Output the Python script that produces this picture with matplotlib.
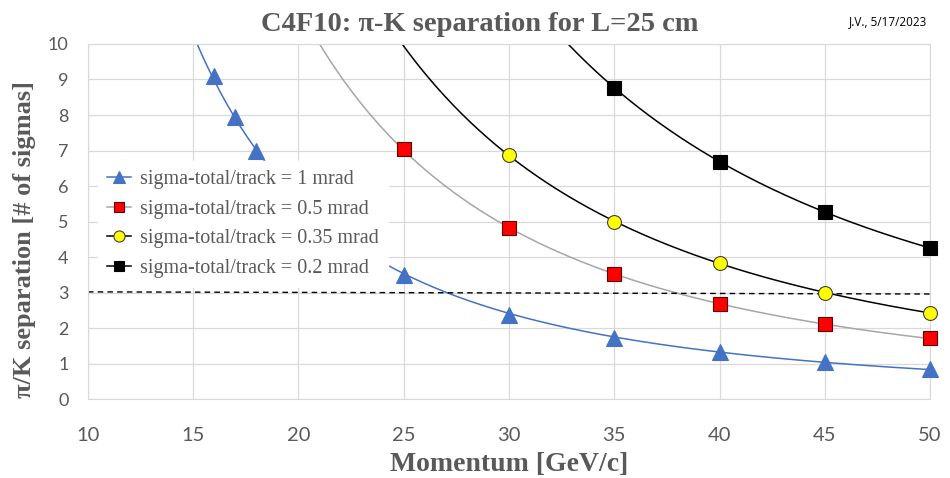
"""C4F10 pi-K separation vs momentum for L=25 cm."""
import matplotlib
matplotlib.use("Agg")
import matplotlib.pyplot as plt
import numpy as np

GRIS = "#595959"
REJILLA = "#D9D9D9"

# datos
p_1mrad = [16, 17, 18, 25, 30, 35, 40, 45, 50]
sep_1mrad = [9.1, 7.95, 7.0, 3.5, 2.37, 1.73, 1.32, 1.04, 0.85]

p_05mrad = [25, 30, 35, 40, 45, 50]
sep_05mrad = [7.03, 4.82, 3.52, 2.68, 2.11, 1.71]

p_035mrad = [30, 35, 40, 45, 50]
sep_035mrad = [6.87, 5.0, 3.82, 3.0, 2.43]

p_02mrad = [35, 40, 45, 50]
sep_02mrad = [8.77, 6.68, 5.28, 4.25]

umbral_x = [10, 50]
umbral_y = [3.02, 2.96]

etiquetas = ["sigma-total/track = 1 mrad",
             "sigma-total/track = 0.5 mrad",
             "sigma-total/track = 0.35 mrad",
             "sigma-total/track = 0.2 mrad"]


def _tendencia(ax, x, y, color):
    # ajuste potencial (como la linea de tendencia de Excel)
    b, a = np.polyfit(np.log(x), np.log(y), 1)
    xx = np.linspace(10, 50, 400)
    ax.plot(xx, np.exp(a) * xx ** b, color=color, linewidth=1.1, zorder=2)


def main():
    fig = plt.figure(figsize=(9.5, 4.78), dpi=100)
    ax = fig.add_axes([0.0926, 0.165, 0.8864, 0.743])

    series = [
        (p_1mrad, sep_1mrad, "#4472C4", dict(marker="^", ms=11, mfc="#4472C4", mec="#4472C4")),
        (p_05mrad, sep_05mrad, "#A6A6A6", dict(marker="s", ms=9.5, mfc="#FF0000", mec="#600000")),
        (p_035mrad, sep_035mrad, "black", dict(marker="o", ms=10, mfc="#FFFF00", mec="#404040")),
        (p_02mrad, sep_02mrad, "black", dict(marker="s", ms=9.5, mfc="black", mec="black")),
    ]
    asas = []
    for (x, y, color, mk), lab in zip(series, etiquetas):
        _tendencia(ax, x, y, color)
        ax.plot(x, y, linestyle="none", zorder=3, mew=0.8, clip_on=False, **mk)
        h, = ax.plot([], [], color=color, linewidth=1.1, mew=0.8, label=lab,
                     **{**mk, "ms": mk["ms"] * 0.8})
        asas.append(h)

    ax.plot(umbral_x, umbral_y, color="black", linestyle=(0, (4, 3)),
            linewidth=1.0, zorder=2)

    ax.set_xlim(10, 50)
    ax.set_ylim(0, 10)
    ax.set_xticks(range(10, 51, 5))
    ax.set_yticks(range(0, 11))
    ax.grid(True, color=REJILLA, linewidth=0.9)
    ax.set_axisbelow(True)
    for s in ax.spines.values():
        s.set_color(REJILLA)
    ax.tick_params(length=0, labelcolor=GRIS)
    ax.tick_params(axis="x", labelsize=14.5, pad=20)
    ax.tick_params(axis="y", labelsize=13, pad=14)
    for t in ax.get_xticklabels() + ax.get_yticklabels():
        t.set_family("Lato")

    ax.set_xlabel("Momentum [GeV/c]", family="Liberation Serif", fontweight="bold",
                  fontsize=20, color=GRIS, labelpad=6)
    fig.text(0.026, 0.5, "π/K separation [# of sigmas]", rotation=90,
             ha="center", va="center", family="Liberation Serif",
             fontweight="bold", fontsize=19, color=GRIS)
    fig.text(0.505, 0.922, "C4F10: π-K separation for L=25 cm", ha="center",
             va="bottom", family="Liberation Serif", fontweight="bold",
             fontsize=20.5, color=GRIS)
    fig.text(0.935, 0.955, "J.V., 5/17/2023", ha="center", va="center",
             family="Open Sans", fontsize=8.5, color="black")

    leg = ax.legend(handles=asas, loc="upper left", bbox_to_anchor=(0.012, 0.67),
                    frameon=True, fancybox=False, framealpha=1, edgecolor="white",
                    prop={"family": "Liberation Serif", "size": 14.5},
                    handlelength=1.2, handletextpad=0.45, labelspacing=0.52,
                    borderpad=0.45, borderaxespad=0.0)
    for t in leg.get_texts():
        t.set_color(GRIS)
    leg.set_zorder(5)

    fig.savefig("out.png", dpi=100)
    plt.close(fig)


if __name__ == "__main__":
    main()
